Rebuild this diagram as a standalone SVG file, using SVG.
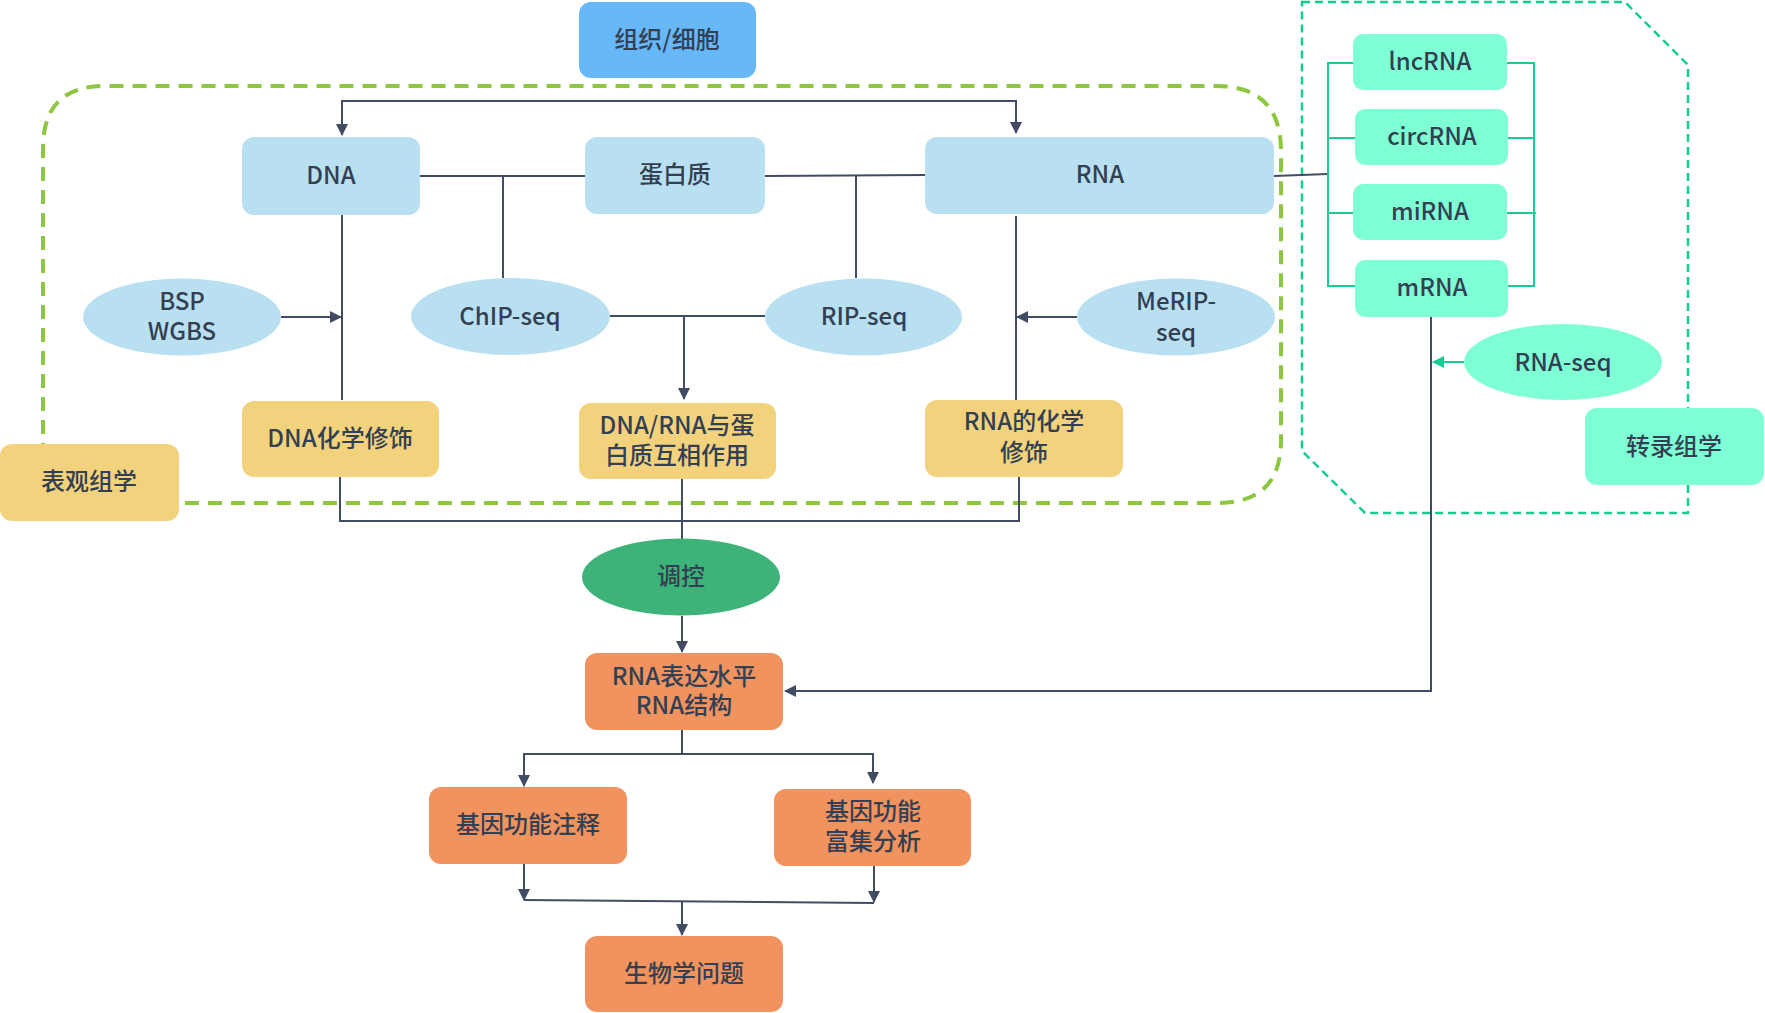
<svg xmlns="http://www.w3.org/2000/svg" width="1765" height="1013" viewBox="0 0 1765 1013">
<defs>
<marker id="arr" viewBox="0 0 12 12" refX="11" refY="6" markerWidth="12" markerHeight="12" markerUnits="userSpaceOnUse" orient="auto-start-reverse">
<path d="M0,0 L12,6 L0,12 Z" fill="#414C63"/>
</marker>
<marker id="arrT" viewBox="0 0 12 12" refX="11" refY="6" markerWidth="12" markerHeight="12" markerUnits="userSpaceOnUse" orient="auto">
<path d="M0,0 L12,6 L0,12 Z" fill="#17CC94"/>
</marker>
</defs>
<style>
text{font-family:"Noto Sans CJK SC","Noto Sans",sans-serif;font-size:24px;font-weight:500;fill:#333F52;text-anchor:middle;dominant-baseline:central}
.lb{fill:#B9E0F0}
.bl{fill:#66B8F9}
.gd{fill:#F3D27E}
.aq{fill:#7FFFD4}
.gr{fill:#3DB37A}
.or{fill:#F0935F}
.ln{fill:none;stroke:#414C63;stroke-width:2}
.tl{fill:none;stroke:#17CC94;stroke-width:2}
</style>
<rect width="1765" height="1013" fill="#FFFFFF"/>
<g id="epigenome-region">
<path d="M43,503 V148 Q43,86 105,86 H1216 Q1281,86 1281,151 V440 Q1281,503 1218,503 Z" fill="none" stroke="#8DC63F" stroke-width="4" stroke-dasharray="14 9"/>
</g>
<g id="transcriptome-region">
<path d="M1302,2 H1625 L1688,65 V513 H1365 L1302,451 Z" fill="none" stroke="#17CC94" stroke-width="2.5" stroke-dasharray="8 5"/>
</g>
<g id="connectors">
<path class="ln" d="M342,135 V101 H1016 V133" marker-start="url(#arr)" marker-end="url(#arr)"/>
<path class="ln" d="M420,176 H585"/>
<path class="ln" d="M765,176 L925,175"/>
<path class="ln" d="M503,176 V278"/>
<path class="ln" d="M856,176 V278"/>
<path class="ln" d="M342,215 V400"/>
<path class="ln" d="M281,317 H341" marker-end="url(#arr)"/>
<path class="ln" d="M610,316 H765"/>
<path class="ln" d="M684,316 V399" marker-end="url(#arr)"/>
<path class="ln" d="M1016,216 V400"/>
<path class="ln" d="M1077,317 H1017" marker-end="url(#arr)"/>
<path class="ln" d="M340,477 V521 H1019 V476"/>
<path class="ln" d="M682,479 V539"/>
<path class="ln" d="M682,616 V652" marker-end="url(#arr)"/>
<path class="ln" d="M1431,317 V691 H785" marker-end="url(#arr)"/>
<path d="M1464,362 H1433" fill="none" stroke="#17CC94" stroke-width="2" marker-end="url(#arrT)"/>
<path class="ln" d="M1274,176 L1328,174"/>
<path class="tl" d="M1353,63 H1328 V286 H1355 M1328,138 H1355 M1328,213 H1353"/>
<path class="tl" d="M1506,63 H1534 V286 H1508 M1508,138 H1534 M1506,213 H1536"/>
<path class="ln" d="M682,730 V754"/>
<path class="ln" d="M524,786 V754 H873 V783" marker-start="url(#arr)" marker-end="url(#arr)"/>
<path class="ln" d="M524,864 V900" marker-end="url(#arr)"/>
<path class="ln" d="M874,865 V902" marker-end="url(#arr)"/>
<path class="ln" d="M524,900 L874,903"/>
<path class="ln" d="M682,901 V935" marker-end="url(#arr)"/>
</g>
<g id="tissue"><rect class="bl" x="579" y="2" width="177" height="76" rx="12"/><text x="667" y="37">组织/细胞</text></g>
<g id="dna"><rect class="lb" x="242" y="137" width="178" height="78" rx="12"/><text x="331" y="173">DNA</text></g>
<g id="protein"><rect class="lb" x="585" y="137" width="180" height="77" rx="12"/><text x="675" y="172">蛋白质</text></g>
<g id="rna"><rect class="lb" x="925" y="137" width="349" height="77" rx="12"/><text x="1100" y="172">RNA</text></g>
<g id="bsp"><ellipse class="lb" cx="182" cy="317" rx="99" ry="38.5"/><text x="182" y="299">BSP</text><text x="182" y="329">WGBS</text></g>
<g id="chip"><ellipse class="lb" cx="510.5" cy="316.5" rx="99.5" ry="38.5"/><text x="510" y="314">ChIP-seq</text></g>
<g id="rip"><ellipse class="lb" cx="863.5" cy="317" rx="98.5" ry="38.5"/><text x="864" y="314">RIP-seq</text></g>
<g id="merip"><ellipse class="lb" cx="1176" cy="317" rx="99" ry="38.5"/><text x="1176" y="299">MeRIP-</text><text x="1176" y="330">seq</text></g>
<g id="dna-mod"><rect class="gd" x="242" y="401" width="197" height="76" rx="12"/><text x="340" y="436">DNA化学修饰</text></g>
<g id="dna-rna-protein"><rect class="gd" x="579" y="403" width="197" height="76" rx="12"/><text x="677" y="423">DNA/RNA与蛋</text><text x="677" y="453">白质互相作用</text></g>
<g id="rna-mod"><rect class="gd" x="925" y="400" width="198" height="77" rx="12"/><text x="1024" y="419">RNA的化学</text><text x="1024" y="450">修饰</text></g>
<g id="epigenomics"><rect class="gd" x="0" y="444" width="179" height="77" rx="12"/><text x="89" y="479">表观组学</text></g>
<g id="lncrna"><rect class="aq" x="1353" y="34" width="154" height="56" rx="10"/><text x="1430" y="59">lncRNA</text></g>
<g id="circrna"><rect class="aq" x="1355" y="109" width="153" height="56" rx="10"/><text x="1432" y="134">circRNA</text></g>
<g id="mirna"><rect class="aq" x="1353" y="184" width="154" height="56" rx="10"/><text x="1430" y="209">miRNA</text></g>
<g id="mrna"><rect class="aq" x="1355" y="260" width="153" height="57" rx="10"/><text x="1432" y="285">mRNA</text></g>
<g id="rnaseq"><ellipse class="aq" cx="1563" cy="362" rx="99" ry="38"/><text x="1563" y="360">RNA-seq</text></g>
<g id="transcriptomics"><rect class="aq" x="1585" y="408" width="179" height="77" rx="12"/><text x="1674" y="444">转录组学</text></g>
<g id="regulation"><ellipse class="gr" cx="681" cy="577" rx="99" ry="38.5"/><text x="681" y="574">调控</text></g>
<g id="rna-expr"><rect class="or" x="585" y="653" width="198" height="77" rx="12"/><text x="684" y="674">RNA表达水平</text><text x="684" y="703">RNA结构</text></g>
<g id="gene-annot"><rect class="or" x="429" y="787" width="198" height="77" rx="12"/><text x="528" y="822">基因功能注释</text></g>
<g id="gene-enrich"><rect class="or" x="774" y="789" width="197" height="77" rx="12"/><text x="873" y="809">基因功能</text><text x="873" y="839">富集分析</text></g>
<g id="bio-question"><rect class="or" x="585" y="936" width="198" height="76" rx="12"/><text x="684" y="971">生物学问题</text></g>
</svg>
